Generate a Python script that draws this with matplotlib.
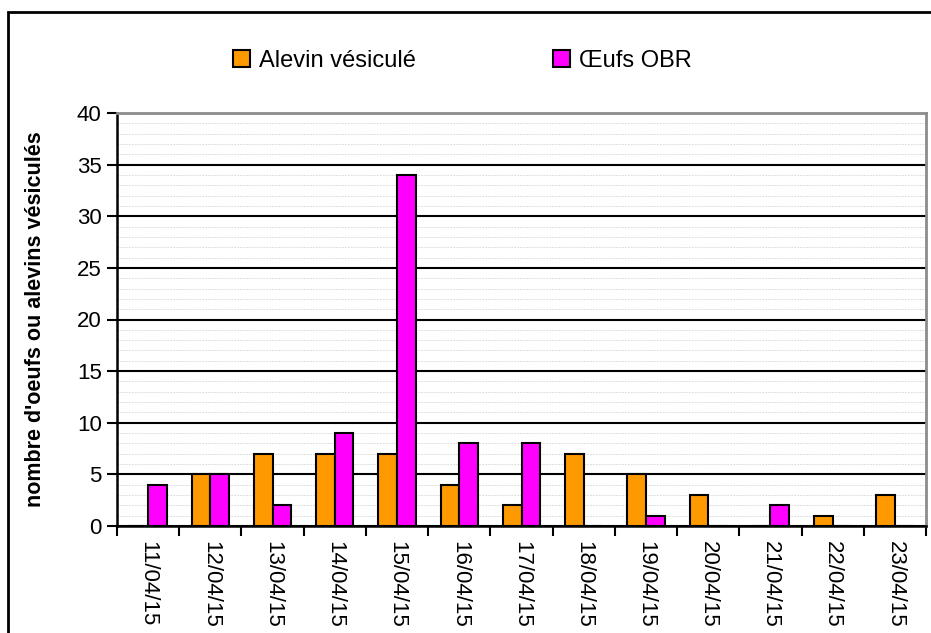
import matplotlib
matplotlib.use('Agg')
import matplotlib.pyplot as plt
import numpy as np
from matplotlib.patches import Rectangle

# Données journalières
dates = ['11/04/15', '12/04/15', '13/04/15', '14/04/15', '15/04/15', '16/04/15', '17/04/15',
         '18/04/15', '19/04/15', '20/04/15', '21/04/15', '22/04/15', '23/04/15']
alevins = [0, 5, 7, 7, 7, 4, 2, 7, 5, 3, 0, 1, 3]
oeufs = [4, 5, 2, 9, 34, 8, 8, 0, 1, 0, 2, 0, 0]

plt.rcParams['font.family'] = ['Liberation Sans', 'DejaVu Sans']

fig = plt.figure(figsize=(9.31, 6.33), dpi=100)
ax = fig.add_axes([117 / 931, 1 - 526 / 633, (926 - 117) / 931, (526 - 113) / 633])

x = np.arange(len(dates))
larg = 0.3
ax.bar(x - larg / 2, alevins, larg, color='#FF9900', edgecolor='black', linewidth=1.5,
       label='Alevin vésiculé', zorder=3)
ax.bar(x + larg / 2, oeufs, larg, color='#FF00FF', edgecolor='black', linewidth=1.5,
       label='Œufs OBR', zorder=3)

ax.set_xlim(-0.5, len(dates) - 0.5)
ax.set_ylim(0, 40)

# graduations : traits aux limites de catégories, étiquettes au centre
ax.set_xticks(np.arange(len(dates) + 1) - 0.5)
ax.set_xticklabels([])
ax.set_xticks(x, dates, minor=True)
ax.tick_params(axis='x', which='major', length=7, width=1.5, direction='out')
ax.tick_params(axis='x', which='minor', length=0, pad=11, labelsize=16, labelrotation=270)

ax.set_yticks(np.arange(0, 41, 5))
ax.set_yticks(np.arange(0, 41, 1), minor=True)
ax.tick_params(axis='y', which='major', length=7, width=1.5, labelsize=16, pad=4)
ax.tick_params(axis='y', which='minor', length=0)

ax.grid(axis='y', which='major', color='black', linewidth=1.5, zorder=1)
ax.grid(axis='y', which='minor', color='#dedede', linewidth=0.7, linestyle=(0, (2, 1)), zorder=0)
ax.set_axisbelow(True)

for s in ['left', 'bottom']:
    ax.spines[s].set_linewidth(1.8)
    ax.spines[s].set_color('black')
for s in ['top', 'right']:
    ax.spines[s].set_linewidth(2)
    ax.spines[s].set_color('#8c8c8c')

ax.set_ylabel("nombre d'oeufs ou alevins vésiculés", fontsize=15.5, fontweight='bold', labelpad=22)

fig.legend(loc='center', bbox_to_anchor=(0.497, 1 - 61 / 633), ncol=2, frameon=False,
           fontsize=17, handlelength=0.7, handleheight=0.7, handletextpad=0.4,
           columnspacing=5.8)

# cadre extérieur du graphique
fig.add_artist(Rectangle((8 / 931, -0.1), 1.2, 1.1 - 12 / 633, transform=fig.transFigure,
                         fill=False, edgecolor='black', linewidth=2, clip_on=False))

plt.savefig('out.png', dpi=100)
